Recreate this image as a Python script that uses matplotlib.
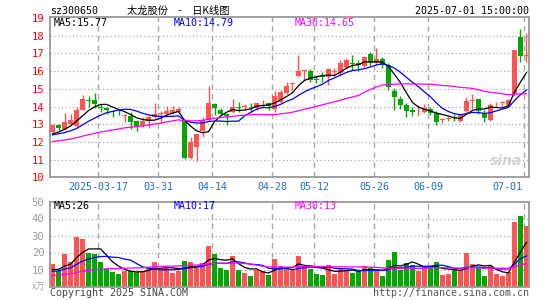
import numpy as np
import pandas as pd
import matplotlib
matplotlib.use("Agg")
import matplotlib.pyplot as plt

plt.rcParams['font.family'] = ['DejaVu Sans Mono', 'Noto Sans CJK SC']

# trading days 2025-03-05 .. 2025-07-01 (China holidays removed)
holidays = ['2025-04-04', '2025-05-01', '2025-05-02', '2025-05-05', '2025-06-02']
dates = [d for d in pd.bdate_range('2025-03-05', '2025-07-01') if d.strftime('%Y-%m-%d') not in holidays]

opens = [12.57, 12.94, 12.72, 13.0, 12.9, 13.8, 14.38, 14.36, 14.0, 13.92,
         13.72, 13.66, 13.45, 13.45, 13.17, 12.9, 13.2, 13.38, 13.58, 13.57,
         13.65, 13.68, 13.2, 11.1, 11.72, 12.62, 13.23, 14.13, 13.83, 13.58,
         13.7, 13.95, 14.0, 14.0, 13.94, 14.18, 14.2, 13.85, 14.26, 14.75,
         15.28, 15.72, 16.02, 16.0, 15.55, 15.72, 15.65, 15.95, 15.87, 16.25,
         16.45, 16.47, 16.28, 16.96, 16.43, 16.7, 16.35, 14.9, 14.42, 14.08,
         13.8, 13.72, 13.7, 13.88, 13.64, 13.24, 13.3, 13.38, 13.2, 13.72,
         14.3, 14.4, 13.66, 13.25, 14.17, 14.2, 14.1, 14.7, 17.92, 16.85]
highs = [13.0, 13.03, 13.64, 13.6, 14.0, 14.65, 14.6, 14.78, 14.15, 14.0,
         13.8, 13.8, 13.6, 13.7, 13.22, 13.4, 13.5, 14.17, 13.75, 14.05,
         14.05, 14.0, 13.25, 12.3, 12.45, 13.4, 15.15, 14.2, 13.9, 13.65,
         14.4, 14.25, 14.15, 14.17, 14.22, 14.35, 14.28, 14.85, 14.92, 15.4,
         15.4, 16.9, 16.1, 16.1, 15.7, 15.95, 16.2, 16.15, 16.6, 16.75,
         16.9, 16.6, 16.85, 17.1, 17.28, 16.8, 16.45, 15.02, 14.6, 14.2,
         14.0, 14.07, 14.15, 13.98, 13.76, 13.35, 13.45, 13.55, 13.58, 14.55,
         14.7, 14.42, 13.8, 14.2, 14.25, 14.32, 14.42, 17.2, 18.38, 18.13]
lows = [12.45, 12.66, 12.7, 12.95, 12.85, 13.78, 14.0, 13.92, 13.7, 13.6,
        13.42, 13.52, 13.15, 12.75, 12.6, 12.85, 12.8, 13.35, 13.08, 13.5,
        13.55, 13.6, 11.03, 11.05, 10.92, 12.3, 13.2, 13.5, 13.5, 12.95,
        13.65, 13.7, 13.8, 13.7, 13.8, 14.0, 13.8, 13.7, 14.2, 14.7,
        14.95, 15.65, 15.5, 15.4, 15.35, 15.4, 15.2, 15.7, 15.7, 16.1,
        16.05, 16.0, 16.25, 16.3, 16.35, 16.15, 14.95, 13.83, 13.85, 13.42,
        13.45, 13.45, 13.62, 13.5, 12.96, 13.07, 13.2, 13.17, 13.15, 13.62,
        13.85, 13.55, 13.15, 13.2, 13.95, 13.98, 14.0, 14.6, 16.53, 16.53]
closes = [12.94, 12.8, 13.11, 13.23, 13.8, 14.41, 14.32, 14.12, 13.93, 13.82,
          13.68, 13.62, 13.52, 13.1, 12.9, 13.2, 13.38, 13.57, 13.62, 13.75,
          13.8, 13.86, 11.07, 12.0, 12.42, 13.22, 14.17, 13.9, 13.6, 13.47,
          14.0, 13.9, 14.03, 13.95, 14.2, 14.22, 14.02, 14.58, 14.83, 15.15,
          15.32, 16.0, 16.07, 15.5, 15.5, 15.68, 16.1, 16.0, 16.45, 16.62,
          16.42, 16.35, 16.77, 16.43, 16.66, 16.35, 15.08, 14.55, 14.1, 13.75,
          13.67, 13.76, 13.9, 13.65, 13.15, 13.28, 13.34, 13.34, 13.55, 14.33,
          14.35, 13.72, 13.34, 14.08, 14.2, 14.24, 14.38, 17.2, 16.87, 16.9]
# volume in 万手
volumes = [13.2, 9.4, 19.1, 14.2, 29.0, 28.2, 20.0, 19.1, 14.4, 10.5,
           8.6, 7.5, 9.4, 9.0, 8.5, 9.0, 11.3, 14.4, 10.0, 11.0,
           8.1, 9.4, 14.8, 14.4, 11.0, 13.9, 23.9, 19.1, 11.0, 9.6,
           17.7, 10.0, 8.1, 6.1, 10.0, 9.0, 6.7, 16.2, 11.9, 11.0,
           9.6, 17.7, 11.9, 10.4, 7.5, 6.7, 12.5, 7.5, 10.6, 9.6,
           8.1, 9.0, 11.9, 11.0, 9.0, 6.1, 15.8, 20.1, 9.6, 13.9,
           12.9, 9.0, 11.4, 11.5, 14.3, 6.7, 7.5, 9.6, 9.6, 19.7,
           13.3, 11.4, 6.1, 11.9, 7.5, 6.1, 8.5, 38.0, 41.5, 35.7]

# closes / volumes before the window (estimated so the MA lines start where they do)
prev_closes = [11.6, 11.7, 11.5, 11.65, 11.8, 11.9, 11.75, 11.85, 12.0, 11.95,
               11.8, 11.7, 11.9, 12.05, 11.95, 11.85, 11.9, 12.0, 11.85, 11.95,
               12.2, 12.4, 12.3, 12.45, 12.4, 12.25, 12.35, 12.3, 12.4]
prev_volumes = [5.0, 4.5, 5.5, 6.0, 4.8, 5.2, 5.8, 4.6, 5.0, 5.5,
                5.3, 4.9, 5.6, 5.1, 5.4, 5.0, 5.7, 5.2, 5.4, 5.5,
                7.5, 8.2, 8.0, 7.8, 8.5, 9.0, 9.5, 8.8, 9.5]

label_dates = ['2025-03-17', '2025-03-31', '2025-04-14', '2025-04-28',
               '2025-05-12', '2025-05-26', '2025-06-09', '2025-07-01']

# legend values as printed on the chart
price_ma_text = ['MA5:15.77', 'MA10:14.79', 'MA30:14.65']
vol_ma_text = ['MA5:26', 'MA10:17', 'MA30:13']

RED = '#ff5252'
GREEN = '#00a800'
GRID = '#a8a8a8'
BORDER = '#999999'
MA_COLORS = ['black', '#0000ff', '#ff00ff']

n = len(closes)
x = np.arange(n)
o = np.array(opens); h = np.array(highs); l = np.array(lows); c = np.array(closes)
up = c >= o
cols = np.where(up, RED, GREEN)

allc = pd.Series(prev_closes + closes)
allv = pd.Series(prev_volumes + volumes)
ma = [allc.rolling(k).mean().values[-n:] for k in (5, 10, 30)]
vma = [allv.rolling(k).mean().values[-n:] for k in (5, 10, 30)]

W, H = 545, 300
fig = plt.figure(figsize=(W / 100, H / 100), dpi=100)


def box(x0, y0, x1, y1):
    return [x0 / W, 1 - y1 / H, (x1 - x0) / W, (y1 - y0) / H]


ax = fig.add_axes(box(50, 17.3, 529, 177.3))
axv = fig.add_axes(box(50, 201.5, 529, 286.5))

date_str = [d.strftime('%Y-%m-%d') for d in dates]
label_idx = [date_str.index(d) for d in label_dates]

for a in (ax, axv):
    a.set_xlim(-0.42, n - 0.58)
    for sp in a.spines.values():
        sp.set_color(BORDER)
        sp.set_linewidth(1.3)
    for i in label_idx:
        a.axvline(i - 0.37, color=GRID, lw=1, dashes=(4, 3), zorder=0)
    a.set_xticks([])

# price panel
ax.set_ylim(10, 19.04)
for v in range(11, 19):
    ax.axhline(v, color=GRID, lw=0.9, dashes=(1, 2), zorder=0)
ax.vlines(x, l, h, colors=cols, lw=1, zorder=2)
ax.bar(x, np.maximum(np.abs(c - o), 0.04), bottom=np.minimum(o, c), width=0.78,
       color=cols, zorder=3)
for line, col in zip(ma, MA_COLORS):
    ax.plot(x, line, color=col, lw=0.9, zorder=4)
ax.set_yticks(range(10, 20))
ax.tick_params(axis='y', length=0, pad=4, labelsize=7.6, labelcolor='#ff0000')

ax.text(0.985, 0.1, 'sina', transform=ax.transAxes, ha='right', va='center',
        fontsize=10, fontweight='bold', style='italic', color='#d4d4d4',
        family='DejaVu Sans', zorder=1)

# volume panel
axv.set_ylim(0, 50)
for v in (10, 20, 30, 40):
    axv.axhline(v, color=GRID, lw=0.9, dashes=(1, 2), zorder=0)
axv.bar(x, volumes, width=0.78, color=cols, zorder=2)
for line, col in zip(vma, MA_COLORS):
    axv.plot(x, line, color=col, lw=0.9, zorder=4)
axv.set_yticks([10, 20, 30, 40, 50])
axv.tick_params(axis='y', length=0, pad=4, labelsize=7.6, labelcolor='#999999')

# date labels
for k, i in enumerate(label_idx):
    lab = label_dates[k] if k == 0 else label_dates[k][5:]
    if k == len(label_idx) - 1:
        fig.text(522 / W, 1 - 187 / H, lab, ha='right', va='center', fontsize=7.2, color='#1a6fc4')
    else:
        xp = ax.transData.transform((i - 0.37, 0))[0] / fig.dpi / (W / 100)
        fig.text(xp, 1 - 187 / H, lab, ha='center', va='center', fontsize=7.2, color='#1a6fc4')


def ftext(px, py, s, **kw):
    fig.text(px / W, 1 - py / H, s, va='center', **kw)


ftext(50, 11, 'sz300650', fontsize=7.2, color='black')
ftext(178, 10.5, '太龙股份\u3000-\u3000日K线图', ha='center', fontsize=7.4, color='black',
      family=['Noto Sans CJK SC', 'DejaVu Sans'])
ftext(529, 11, '2025-07-01 15:00:00', ha='right', fontsize=7.2, color='black')

for px, s, col in zip((54, 174, 295), price_ma_text, MA_COLORS):
    ftext(px, 23.5, s, fontsize=7.2, color=col)
for px, s, col in zip((54, 174, 295), vol_ma_text, MA_COLORS):
    ftext(px, 206, s, fontsize=7.2, color=col)

ftext(45, 287, 'x万', ha='right', fontsize=6.5, color='#aaaaaa',
      family=['Noto Sans CJK SC', 'DejaVu Sans'])
ftext(50, 292.5, 'Copyright 2025 SINA.COM', fontsize=7.2, color='#444444')
ftext(529, 293, 'http://finance.sina.com.cn', ha='right', fontsize=7.2, color='#555555')

fig.savefig('out.png', dpi=100)
